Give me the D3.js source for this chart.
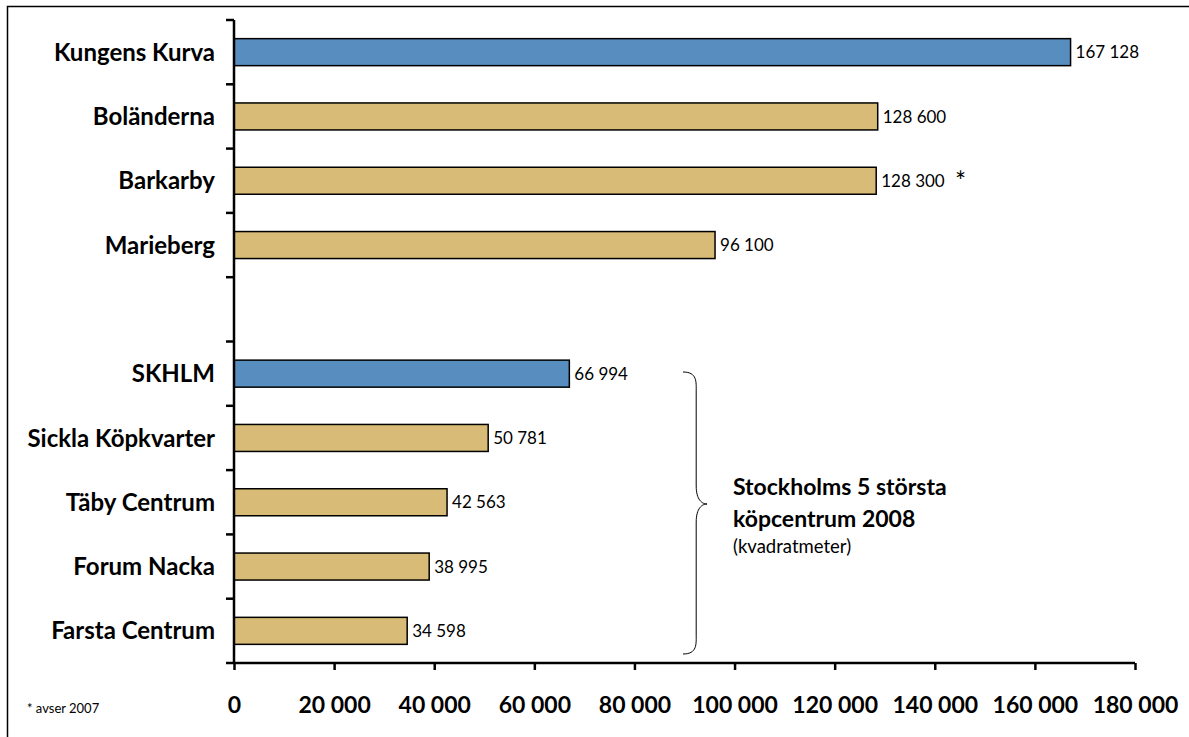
<!DOCTYPE html>
<html>
<head>
<meta charset="utf-8">
<script src="https://cdn.jsdelivr.net/npm/d3@7"></script>
<style>
  body { margin: 0; background: #fff; }
  svg { display: block; font-family: Lato, "Open Sans", sans-serif; }
</style>
</head>
<body>
<svg id="chart"></svg>
<script>
// categories top to bottom, "" = empty gap slot
const categories = ["Kungens Kurva", "Boländerna", "Barkarby", "Marieberg", "",
  "SKHLM", "Sickla Köpkvarter", "Täby Centrum", "Forum Nacka", "Farsta Centrum"];
const values = [167128, 128600, 128300, 96100, null, 66994, 50781, 42563, 38995, 34598];
const highlighted = ["Kungens Kurva", "SKHLM"];
const xTicks = [0, 20000, 40000, 60000, 80000, 100000, 120000, 140000, 160000, 180000];

const width = 1189, height = 737;
const fmt = v => d3.format(",")(v).replace(/,/g, " ");

const svg = d3.select("#chart").attr("width", width).attr("height", height);

// frame (only top and left visible in the picture)
svg.append("rect")
  .attr("x", 7.5).attr("y", 6.5).attr("width", 1300).attr("height", 800)
  .attr("fill", "none").attr("stroke", "#000").attr("stroke-width", 1.5);

const x = d3.scaleLinear().domain([0, 180000]).range([234, 1135]);
const y = d3.scaleBand()
  .domain(categories.map((c, i) => i))
  .range([20, 663])
  .paddingInner(0.58).paddingOuter(0.29);

const rows = categories.map((c, i) => ({ name: c, value: values[i], i }));

// bars
svg.append("g")
  .selectAll("rect")
  .data(rows.filter(d => d.value != null))
  .join("rect")
  .attr("x", x(0))
  .attr("y", d => y(d.i))
  .attr("width", d => x(d.value) - x(0))
  .attr("height", y.bandwidth())
  .attr("fill", d => highlighted.includes(d.name) ? "#588dc0" : "#d8bb76")
  .attr("stroke", "#000")
  .attr("stroke-width", 1.5);

// value labels
svg.append("g")
  .selectAll("text")
  .data(rows.filter(d => d.value != null))
  .join("text")
  .attr("x", d => x(d.value) + 5)
  .attr("y", d => y(d.i) + y.bandwidth() / 2)
  .attr("dy", "0.36em")
  .attr("font-size", 17)
  .text(d => fmt(d.value));

svg.append("text")
  .attr("x", 955).attr("y", y(2) + 24)
  .attr("font-size", 26)
  .text("*");

// category labels
svg.append("g")
  .selectAll("text")
  .data(rows.filter(d => d.name))
  .join("text")
  .attr("x", 215)
  .attr("y", d => y(d.i) + y.bandwidth() / 2)
  .attr("dy", "0.36em")
  .attr("text-anchor", "end")
  .attr("font-size", 24)
  .attr("font-weight", "bold")
  .text(d => d.name);

// y axis with ticks between categories
const step = (663 - 20) / categories.length;
const yAxis = svg.append("g");
yAxis.append("line")
  .attr("x1", 234).attr("x2", 234).attr("y1", 20).attr("y2", 663)
  .attr("stroke", "#000").attr("stroke-width", 2.5);
yAxis.selectAll("line.tick")
  .data(d3.range(categories.length))
  .join("line")
  .attr("class", "tick")
  .attr("x1", 226).attr("x2", 234)
  .attr("y1", d => 20 + d * step).attr("y2", d => 20 + d * step)
  .attr("stroke", "#000").attr("stroke-width", 2.5);

// x axis
const xAxis = svg.append("g")
  .attr("transform", "translate(0,663)")
  .call(d3.axisBottom(x).tickValues(xTicks).tickSize(7).tickPadding(27).tickFormat(fmt));
xAxis.select(".domain").attr("stroke-width", 2.5).attr("d", `M${x(0) - 8},0H${x(180000)}`);
xAxis.selectAll(".tick line").attr("stroke-width", 2.5);
xAxis.selectAll(".tick text")
  .attr("font-size", 23).attr("font-weight", "bold")
  .attr("font-family", "Lato, sans-serif").attr("fill", "#000");

// brace
const bx = 683, by0 = 372, by1 = 654, bm = 504, bw = 24;
svg.append("path")
  .attr("d", `M${bx},${by0} C${bx + bw * 0.6},${by0} ${bx + bw * 0.55},${by0 + 10} ${bx + bw * 0.55},${by0 + 20}
    L${bx + bw * 0.55},${bm - 18} C${bx + bw * 0.55},${bm - 4} ${bx + bw * 0.8},${bm} ${bx + bw},${bm}
    C${bx + bw * 0.8},${bm} ${bx + bw * 0.55},${bm + 4} ${bx + bw * 0.55},${bm + 18}
    L${bx + bw * 0.55},${by1 - 20} C${bx + bw * 0.55},${by1 - 10} ${bx + bw * 0.6},${by1} ${bx},${by1}`)
  .attr("fill", "none").attr("stroke", "#000").attr("stroke-width", 1);

svg.append("text").attr("x", 733).attr("y", 495)
  .attr("font-size", 23).attr("font-weight", "bold").text("Stockholms 5 största");
svg.append("text").attr("x", 733).attr("y", 527)
  .attr("font-size", 23).attr("font-weight", "bold").text("köpcentrum 2008");
svg.append("text").attr("x", 733).attr("y", 553)
  .attr("font-size", 18.5).text("(kvadratmeter)");

// footnote
svg.append("text").attr("x", 27).attr("y", 713)
  .attr("font-size", 13).text("* avser 2007");
</script>
</body>
</html>
